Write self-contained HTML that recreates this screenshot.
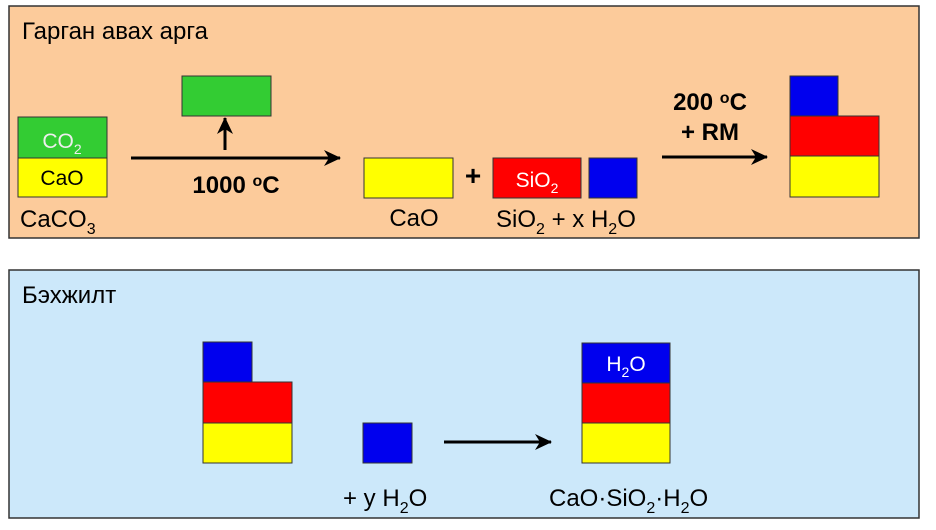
<!DOCTYPE html>
<html><head><meta charset="utf-8"><style>
body{margin:0;background:#fff}
svg{display:block}
text{font-family:"Liberation Sans",sans-serif}
</style></head><body>
<svg width="936" height="530" viewBox="0 0 936 530" xmlns="http://www.w3.org/2000/svg">
<defs><marker id="a" markerWidth="18" markerHeight="18" refX="16" refY="9" orient="auto" markerUnits="userSpaceOnUse"><path d="M0,1 L17,9 L0,17 L5,9 Z" fill="#000"/></marker></defs>
<g stroke="#333" stroke-width="1.5">
<rect x="9" y="6" width="910" height="232" fill="#fccb9b"/>
<rect x="9" y="270" width="910" height="248" fill="#cce8fa"/>
</g>
<text x="22" y="39" font-size="24">Гарган авах арга</text>
<text x="22" y="303" font-size="24">Бэхжилт</text>
<g stroke="#333" stroke-width="1">
<rect x="18" y="117" width="89" height="41" fill="#33cc33"/>
<rect x="18" y="158" width="89" height="39" fill="#ffff00"/>
<rect x="182" y="76" width="89" height="40" fill="#33cc33"/>
<rect x="364" y="158" width="89" height="40" fill="#ffff00"/>
<rect x="493" y="158" width="88" height="40" fill="#ff0000"/>
<rect x="589" y="158" width="48" height="40" fill="#0000ee"/>
<rect x="790" y="76" width="48" height="40" fill="#0000ee"/>
<rect x="790" y="116" width="89" height="40" fill="#ff0000"/>
<rect x="790" y="156" width="89" height="41" fill="#ffff00"/>
<rect x="203" y="342" width="49" height="40" fill="#0000ee"/>
<rect x="203" y="382" width="89" height="41" fill="#ff0000"/>
<rect x="203" y="423" width="89" height="40" fill="#ffff00"/>
<rect x="363" y="423" width="49" height="40" fill="#0000ee"/>
<rect x="582" y="343" width="88" height="40" fill="#0000ee"/>
<rect x="582" y="383" width="88" height="40" fill="#ff0000"/>
<rect x="582" y="423" width="88" height="40" fill="#ffff00"/>
</g>
<g stroke="#000" stroke-width="3" fill="none">
<line x1="131" y1="158" x2="340" y2="158" marker-end="url(#a)"/>
<line x1="225" y1="150" x2="225" y2="118" marker-end="url(#a)"/>
<line x1="662" y1="157" x2="767" y2="157" marker-end="url(#a)"/>
<line x1="444" y1="442" x2="551" y2="442" marker-end="url(#a)"/>
</g>
<g font-size="21" text-anchor="middle">
<text x="62" y="148" fill="#eee">CO<tspan font-size="14" dy="6">2</tspan></text>
<text x="62" y="185" fill="#000">CaO</text>
<text x="537" y="187" fill="#fff">SiO<tspan font-size="14" dy="6">2</tspan></text>
<text x="626" y="371" fill="#fff">H<tspan font-size="14" dy="6">2</tspan><tspan dy="-6">O</tspan></text>
<text x="414" y="226" font-size="24">CaO</text>
<text x="473" y="185" font-size="28" font-weight="bold">+</text>
<text x="236" y="193" font-size="24" font-weight="bold">1000 <tspan font-size="16" dy="-7">o</tspan><tspan dy="7">C</tspan></text>
<text x="710" y="110" font-size="24" font-weight="bold">200 <tspan font-size="16" dy="-7">o</tspan><tspan dy="7">C</tspan></text>
<text x="710" y="140" font-size="24" font-weight="bold">+ RM</text>
</g>
<g font-size="24">
<text x="20" y="227">CaCO<tspan font-size="16" dy="7">3</tspan></text>
<text x="496" y="227">SiO<tspan font-size="16" dy="7">2</tspan><tspan dy="-7"> + x H</tspan><tspan font-size="16" dy="7">2</tspan><tspan dy="-7">O</tspan></text>
<text x="343" y="506">+ y H<tspan font-size="16" dy="7">2</tspan><tspan dy="-7">O</tspan></text>
<text x="549" y="506">CaO·SiO<tspan font-size="16" dy="7">2</tspan><tspan dy="-7">·H</tspan><tspan font-size="16" dy="7">2</tspan><tspan dy="-7">O</tspan></text>
</g>
</svg>
</body></html>
